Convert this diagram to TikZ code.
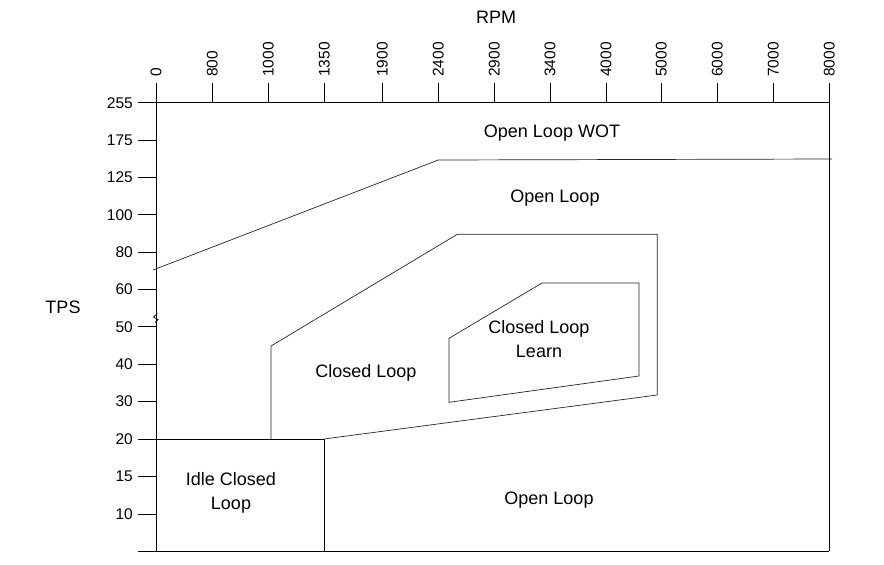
\documentclass[tikz,border=0pt]{standalone}
\usepackage{fontspec}
\setmainfont{Liberation Sans}
\begin{document}
\begin{tikzpicture}[x=1pt,y=-1pt,
  axis/.style={line width=1pt,black},
  region/.style={line width=0.7pt,black!85},
  lab/.style={font=\fontsize{18}{24}\selectfont,inner sep=0pt,align=center},
  ticklab/.style={font=\fontsize{15.5}{18}\selectfont,inner sep=0pt}]
\useasboundingbox[fill=white] (0,0) rectangle (884,565);
% frame
\draw[axis] (156,83) -- (156,551);
\draw[axis] (829,83) -- (829,551);
\draw[axis] (138,102) -- (829,102);
\draw[axis] (138,551) -- (829,551);
% top ticks
\foreach \x/\t in {212.3/800,268.3/1000,324.3/1350,382.3/1900,438.3/2400,494.3/2900,550/3400,606/4000,661.3/5000,717.3/6000,773.3/7000}
  \draw[axis] (\x,83) -- (\x,102);
\foreach \x/\t [count=\i] in {156/0,212.3/800,268.3/1000,324.3/1350,382.3/1900,438.3/2400,494.3/2900,550/3400,606/4000,661.3/5000,717.3/6000,773.3/7000,829.3/8000}
  \node[ticklab,rotate=90,anchor=west] (xt\i) at (\x,77) {\t};
% left ticks
\foreach \y/\t [count=\i] in {102.7/255,140/175,177.3/125,214.7/100,252/80,289.3/60,326.7/50,364/40,401.3/30,439/20,476/15,514/10}
  {\draw[axis] (138,\y) -- (156,\y);
   \node[ticklab,anchor=east] (yt\i) at (133,\y) {\t};}
% axis break mark
\draw[line width=0.7pt] (157.5,313.5) -- (153.5,317) -- (158,319.5) -- (155,322.5);
% idle box
\draw[axis] (156,439) -- (324,439) -- (324,551);
% WOT boundary
\draw[region] (153,270) -- (438.3,160) -- (832,159);
% closed loop polygon
\draw[region] (271,439) -- (271,346) -- (457.3,234.3) -- (657.3,234.3) -- (657.3,395) -- (324,439);
% closed loop learn polygon
\draw[region] (449,338.3) -- (542,283) -- (639,283) -- (639,376) -- (449,402.3) -- cycle;
% labels
\node[lab] (rpm) at (496,17) {RPM};
\node[lab] (tps) at (63,307) {TPS};
\node[lab] (wot) at (552,133) {Open Loop WOT};
\node[lab] (ol1) at (555,198.5) {Open Loop};
\node[lab] (cll) at (539,339) {Closed Loop\\Learn};
\node[lab] (cl) at (366,373) {Closed Loop};
\node[lab] (idle) at (231,493) {Idle Closed\\Loop};
\node[lab] (ol2) at (549,500.5) {Open Loop};
\end{tikzpicture}
\end{document}
